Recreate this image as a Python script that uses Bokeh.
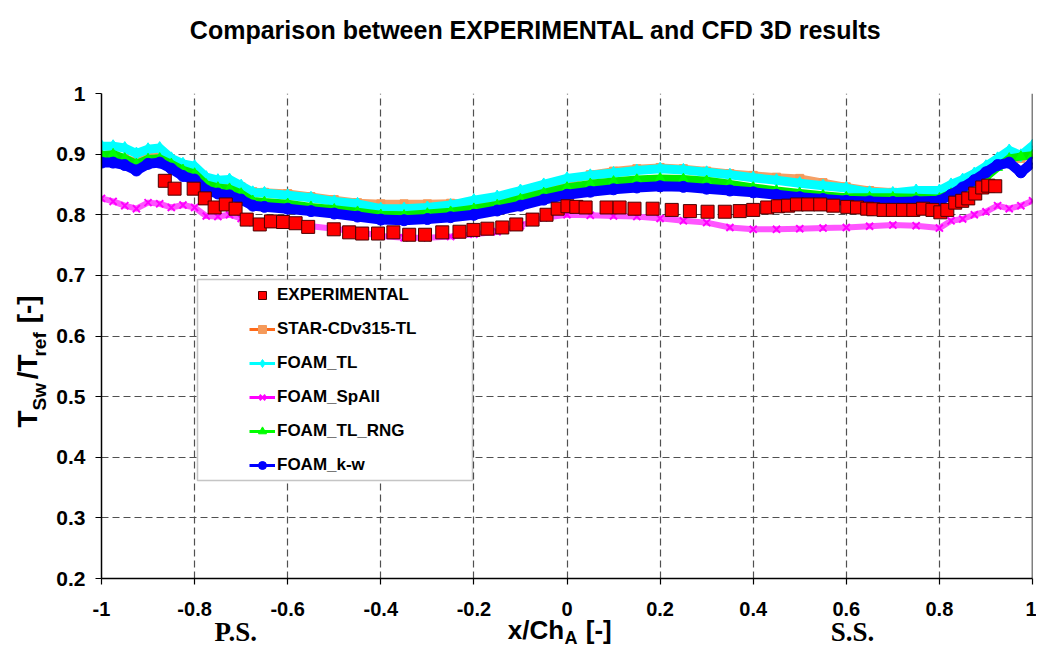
from math import pi
from bokeh.plotting import figure
from bokeh.models import (Range1d, FixedTicker, Legend, LegendItem, Label, Span,
                          BoxAnnotation)
from bokeh.embed import file_html
from bokeh.resources import INLINE

# ---------------- data ----------------
x_model = [-1, -0.975, -0.95, -0.925, -0.9, -0.875, -0.85, -0.825, -0.8, -0.775,
           -0.75, -0.725, -0.7, -0.675, -0.65, -0.6, -0.55, -0.5, -0.45, -0.4,
           -0.35, -0.3, -0.25, -0.2, -0.15, -0.1, -0.05, 0, 0.05, 0.1,
           0.15, 0.2, 0.25, 0.3, 0.35, 0.4, 0.45, 0.5, 0.55, 0.6,
           0.65, 0.7, 0.75, 0.8, 0.825, 0.85, 0.875, 0.9, 0.925, 0.95,
           0.975, 1]

star_cd = [0.895, 0.896, 0.893, 0.887, 0.898, 0.897, 0.881, 0.876, 0.872, 0.858,
           0.856, 0.855, 0.846, 0.838, 0.837, 0.835, 0.830, 0.825, 0.820, 0.818,
           0.818, 0.818, 0.819, 0.820, 0.824, 0.829, 0.845, 0.856, 0.866, 0.872,
           0.876, 0.878, 0.876, 0.872, 0.868, 0.865, 0.862, 0.860, 0.853, 0.846,
           0.840, 0.837, 0.838, 0.838, 0.847, 0.855, 0.865, 0.873, 0.885, 0.894,
           0.893, 0.900]

foam_tl = [0.913, 0.913, 0.910, 0.901, 0.908, 0.910, 0.893, 0.884, 0.880, 0.862,
           0.857, 0.858, 0.848, 0.837, 0.836, 0.832, 0.828, 0.822, 0.818, 0.810,
           0.810, 0.812, 0.816, 0.824, 0.830, 0.840, 0.850, 0.860, 0.865, 0.869,
           0.873, 0.876, 0.874, 0.870, 0.866, 0.861, 0.857, 0.852, 0.848, 0.844,
           0.837, 0.836, 0.840, 0.840, 0.850, 0.858, 0.868, 0.880, 0.893, 0.906,
           0.898, 0.914]

foam_spall = [0.827, 0.822, 0.815, 0.810, 0.820, 0.818, 0.812, 0.816, 0.812, 0.798,
              0.797, 0.800, 0.794, 0.787, 0.786, 0.784, 0.781, 0.777, 0.772, 0.765,
              0.762, 0.762, 0.764, 0.768, 0.772, 0.782, 0.795, 0.800, 0.799, 0.798,
              0.797, 0.794, 0.790, 0.787, 0.779, 0.776, 0.776, 0.777, 0.778, 0.779,
              0.781, 0.783, 0.782, 0.778, 0.790, 0.793, 0.800, 0.805, 0.815, 0.810,
              0.815, 0.823]

foam_tl_rng = [0.898, 0.900, 0.893, 0.884, 0.892, 0.893, 0.884, 0.874, 0.868, 0.850,
               0.845, 0.843, 0.835, 0.823, 0.821, 0.818, 0.813, 0.809, 0.805, 0.800,
               0.799, 0.802, 0.805, 0.810, 0.816, 0.826, 0.836, 0.845, 0.851, 0.855,
               0.858, 0.860, 0.859, 0.856, 0.851, 0.845, 0.840, 0.836, 0.832, 0.829,
               0.829, 0.829, 0.828, 0.827, 0.835, 0.843, 0.852, 0.862, 0.878, 0.893,
               0.896, 0.898]

foam_kw = [0.886, 0.886, 0.882, 0.873, 0.884, 0.886, 0.876, 0.864, 0.858, 0.840,
           0.835, 0.832, 0.825, 0.815, 0.813, 0.810, 0.806, 0.802, 0.797, 0.792,
           0.791, 0.793, 0.796, 0.800, 0.807, 0.815, 0.825, 0.833, 0.838, 0.842,
           0.845, 0.847, 0.846, 0.843, 0.840, 0.837, 0.833, 0.829, 0.826, 0.823,
           0.822, 0.821, 0.822, 0.823, 0.833, 0.845, 0.857, 0.870, 0.882, 0.886,
           0.870, 0.886]

exp_x = [-0.864, -0.843, -0.802, -0.778, -0.757, -0.733, -0.712, -0.688, -0.660, -0.636,
         -0.610, -0.583, -0.556, -0.501, -0.468, -0.440, -0.406, -0.373, -0.339, -0.305,
         -0.268, -0.231, -0.201, -0.171, -0.139, -0.109, -0.074, -0.044, -0.020, 0.001,
         0.020, 0.040, 0.085, 0.113, 0.145, 0.184, 0.225, 0.264, 0.302, 0.339,
         0.371, 0.400, 0.430, 0.453, 0.475, 0.494, 0.518, 0.544, 0.572, 0.602,
         0.623, 0.645, 0.658, 0.680, 0.700, 0.722, 0.744, 0.765, 0.785, 0.802,
         0.817, 0.834, 0.849, 0.862, 0.877, 0.892, 0.905, 0.920]
exp_y = [0.856, 0.843, 0.843, 0.827, 0.812, 0.817, 0.810, 0.792, 0.784, 0.789,
         0.788, 0.786, 0.780, 0.776, 0.771, 0.769, 0.769, 0.771, 0.767, 0.767,
         0.771, 0.772, 0.775, 0.777, 0.779, 0.784, 0.792, 0.800, 0.810, 0.814,
         0.813, 0.812, 0.812, 0.812, 0.810, 0.810, 0.808, 0.806, 0.805, 0.805,
         0.806, 0.808, 0.812, 0.814, 0.815, 0.817, 0.817, 0.817, 0.815, 0.813,
         0.812, 0.810, 0.809, 0.808, 0.808, 0.808, 0.808, 0.810, 0.808, 0.804,
         0.808, 0.820, 0.823, 0.827, 0.835, 0.845, 0.848, 0.847]

x_ticks = [-1, -0.8, -0.6, -0.4, -0.2, 0, 0.2, 0.4, 0.6, 0.8, 1]
x_tick_labels = ["-1", "-0.8", "-0.6", "-0.4", "-0.2", "0", "0.2", "0.4", "0.6", "0.8", "1"]
y_ticks = [0.2, 0.3, 0.4, 0.5, 0.6, 0.7, 0.8, 0.9, 1.0]
y_tick_labels = ["0.2", "0.3", "0.4", "0.5", "0.6", "0.7", "0.8", "0.9", "1"]

series_names = ["STAR-CDv315-TL", "FOAM_TL", "FOAM_SpAll", "FOAM_TL_RNG", "FOAM_k-w"]

title_text = "Comparison between EXPERIMENTAL and CFD 3D results"

# ---------------- layout (figure pixels) ----------------
W_FIG, H_FIG = 1036, 648
FL, FR, FT, FB = 101, 1032, 93, 578
NB = "\u00a0"
DESC = 0.212  # font descent (em), used to anchor labels by their bottom edge


def px2x(px):
    return -1 + (px - FL) * 2.0 / (FR - FL)


def py2y(py):
    return 1 - (py - FT) * 0.8 / (FB - FT)


ARIAL_B = {'T': 611, 'S': 667, 'w': 778, '/': 278, 'r': 389, 'e': 556, 'f': 333,
           ' ': 278, '[': 333, '-': 333, ']': 333, 'x': 556, 'C': 722, 'h': 611, 'A': 722}


def tw(s, size):
    return sum(ARIAL_B[c] for c in s) * size / 1000.0


FONT = "Liberation Sans"

p = figure(frame_width=FR - FL, frame_height=FB - FT,
           min_border_left=FL, min_border_right=W_FIG - FR,
           min_border_top=FT, min_border_bottom=H_FIG - FB,
           x_range=Range1d(-1, 1), y_range=Range1d(0.2, 1),
           output_backend="svg", toolbar_location=None)
p.outline_line_color = None
p.background_fill_color = "white"
p.border_fill_color = "white"

# axes
p.xaxis.ticker = FixedTicker(ticks=x_ticks)
p.yaxis.ticker = FixedTicker(ticks=y_ticks)
p.xaxis.major_label_overrides = dict(zip(x_ticks, x_tick_labels))
p.yaxis.major_label_overrides = dict(zip(y_ticks, y_tick_labels))
for ax in (p.xaxis, p.yaxis):
    ax.axis_line_color = "black"
    ax.axis_line_width = 1.5
    ax.major_tick_line_color = "black"
    ax.major_tick_line_width = 1.2
    ax.minor_tick_line_color = None
    ax.major_tick_in = 0
    ax.major_tick_out = 6
    ax.major_label_text_font = FONT
    ax.major_label_text_font_style = "bold"
    ax.major_label_text_color = "black"
p.xaxis.major_label_text_font_size = "20px"
p.yaxis.major_label_text_font_size = "21px"
p.xaxis.major_label_standoff = 17
p.yaxis.major_label_standoff = 10

# x axis label "x/Ch_A [-]" : big part as the axis label, subscript as a label
XB, XS = 26, 18
p.xaxis.axis_label = "x/Ch" + NB * 3 + "[-]" + NB * 2
p.xaxis.axis_label_text_font = FONT
p.xaxis.axis_label_text_font_style = "bold"
p.xaxis.axis_label_text_font_size = f"{XB}px"
p.xaxis.axis_label_text_color = "black"
p.xaxis.axis_label_standoff = -4

p.xgrid.ticker = FixedTicker(ticks=x_ticks)
p.ygrid.ticker = FixedTicker(ticks=y_ticks)
p.grid.grid_line_color = "#505050"
p.grid.grid_line_dash = "7 4"
p.grid.grid_line_width = 1.2

p.add_layout(Span(location=1, dimension="height", line_color="black", line_width=1.5))

# ---------------- series ----------------
styles = [
    # data, line color, band color, marker, marker size, fill, band width
    (star_cd, "#ff6a1a", "#f5a066", "square", 8, "#f59a5a", 8),
    (foam_tl, "#00ffff", "#00ffff", "diamond", 13, "#00ffff", 9),
    (foam_spall, "#ff00ff", "#ff55ff", "x", 10, "#ff00ff", 6),
    (foam_tl_rng, "#00ff00", "#00ee00", "triangle", 10, "#00ff00", 8),
    (foam_kw, "#0000ff", "#0000ff", "circle", 11, "#0000ff", 10),
]

legend_items = []
thin_renderers = []
for ys, lc, bc, mk, ms, fc, bw in styles:
    thin_renderers.append(p.line(x_model, ys, line_color=lc, line_width=3))

for (ys, lc, bc, mk, ms, fc, bw), name, thin in zip(styles, series_names, thin_renderers):
    p.line(x_model, ys, line_color=bc, line_width=bw, line_join="round")
    if mk == "x":
        sc = p.scatter(x_model, ys, marker=mk, size=ms, line_color=fc, line_width=2)
    else:
        sc = p.scatter(x_model, ys, marker=mk, size=ms, fill_color=fc, line_color=fc)
    legend_items.append(LegendItem(label=name, renderers=[thin, sc]))

exp = p.scatter(exp_x, exp_y, marker="square", size=13, fill_color="#ff0000",
                line_color="#4a0000", line_width=1)
legend_items.insert(0, LegendItem(label="EXPERIMENTAL", renderers=[exp]))

# legend box
p.add_layout(BoxAnnotation(left=px2x(197), right=px2x(472), top=py2y(279), bottom=py2y(480),
                           fill_color="white", fill_alpha=1, line_color="#404040",
                           line_width=1.5))
legend = Legend(items=legend_items, location=(249 - FL, FB - 475),
                border_line_color=None, background_fill_alpha=0, padding=0, margin=0,
                spacing=14, glyph_height=20, glyph_width=26, label_height=20,
                label_standoff=2, label_text_font=FONT, label_text_font_style="bold",
                label_text_font_size="17px", label_text_color="black")
p.add_layout(legend)


# ---------------- texts outside the frame (side-panel labels) ----------------
def lab(text, px, base, size, side, align="left", rotated=False, font=FONT):
    """Place a label whose alphabetic baseline lies at `base` (page pixels)."""
    if rotated:
        x, y, ang = px2x(base + DESC * size), py2y(px), pi / 2
    else:
        x, y, ang = px2x(px), py2y(base + DESC * size), 0
    p.add_layout(Label(x=x, y=y, text=text, text_font=font,
                       text_font_style="bold", text_font_size=f"{size}px",
                       text_align=align, text_baseline="bottom", angle=ang,
                       text_color="black"), side)


lab(title_text, 535, 38, 25, "above", align="center")
lab("P.S." + NB * 85 + "S.S.", 214, 641, 27, "above", font="Liberation Serif")

# subscript of x/Ch_A
xl_total = tw("x/Ch", XB) + 5 * tw(" ", XB) + tw("[-]", XB)
xl_start = (FL + FR) / 2 - xl_total / 2
lab("A", xl_start + tw("x/Ch", XB) + 0.5, 644, XS, "above")

# y axis label T_Sw/T_ref [-] (rotated, reading upwards); px = start along the axis
YB, YS = 28, 19
y0 = 427
lab("T" + NB * 4 + "/T" + NB * 4 + "[-]", y0, 37, YB, "left", rotated=True)
lab("Sw" + NB * 5 + "ref", y0 - tw("T", YB), 45, YS, "left", rotated=True)

open("out.html", "w").write(file_html(p, INLINE))
